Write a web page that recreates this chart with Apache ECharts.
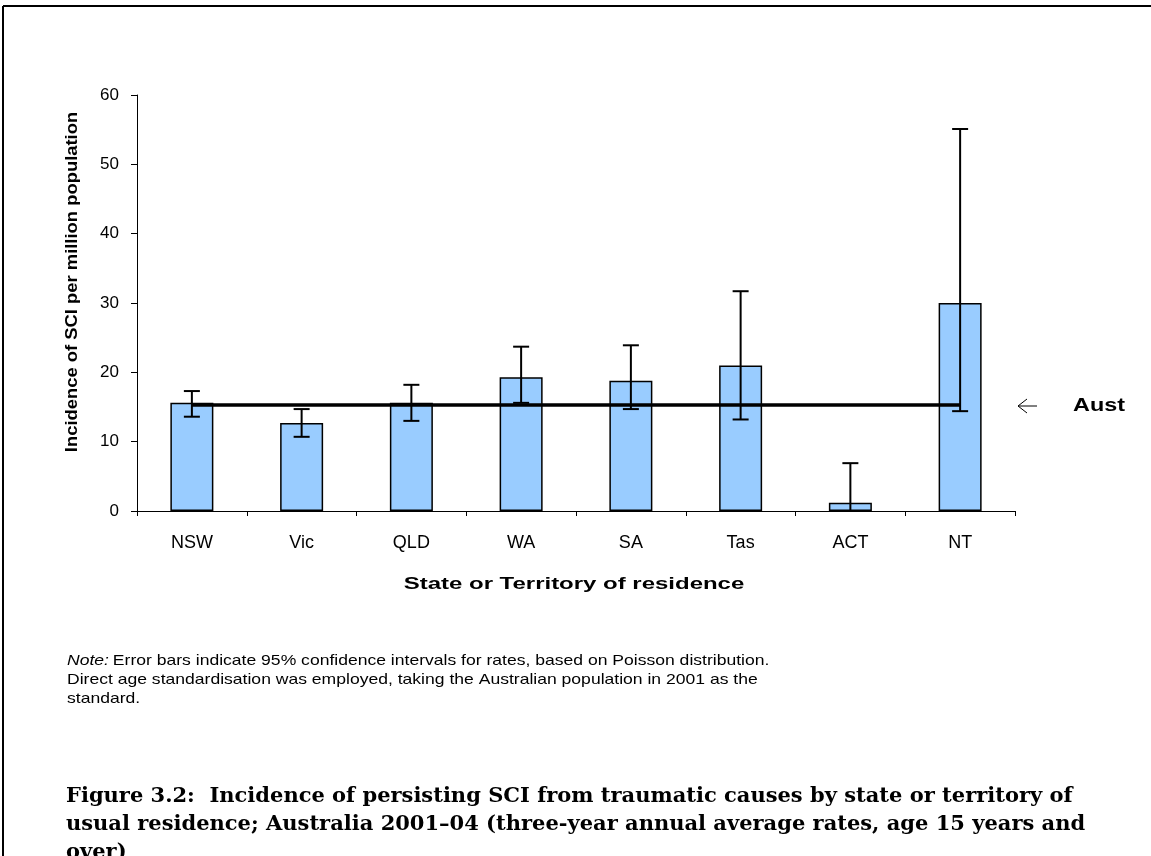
<!DOCTYPE html>
<html>
<head>
<meta charset="utf-8">
<style>
html,body{margin:0;padding:0;background:#fff;}
#chart{width:1151px;height:856px;}
</style>
<script src="https://cdn.jsdelivr.net/npm/echarts@6/dist/echarts.min.js"></script>
</head>
<body>
<div id="chart"></div>
<script>
// ---- data ----
var categories = ['NSW', 'Vic', 'QLD', 'WA', 'SA', 'Tas', 'ACT', 'NT'];
var rates = [15.6, 12.7, 15.6, 19.3, 18.8, 21.0, 1.2, 30.0];
var lowerCI = [13.6, 10.7, 13.0, 15.6, 14.7, 13.2, 0.0, 14.4];
var upperCI = [17.3, 14.7, 18.2, 23.7, 23.9, 31.7, 6.9, 55.1];
var australiaRate = 15.3;
var yTicks = [0, 10, 20, 30, 40, 50, 60];

var yAxisTitle = 'Incidence of SCI per million population';
var xAxisTitle = 'State or Territory of residence';
var austLabel = 'Aust';
var noteLines = [
  'Error bars indicate 95% confidence intervals for rates, based on Poisson distribution.',
  'Direct age standardisation was employed, taking the Australian population in 2001 as the',
  'standard.'
];
var captionLines = [
  'Figure 3.2:  Incidence of persisting SCI from traumatic causes by state or territory of',
  'usual residence; Australia 2001\u201304 (three-year annual average rates, age 15 years and',
  'over)'
];

var sans = '"Liberation Sans", Arial, sans-serif';
var serif = '"DejaVu Serif", "Liberation Serif", serif';

var austLine = categories.map(function () { return australiaRate; });
var errData = categories.map(function (c, i) { return [i, lowerCI[i], upperCI[i]]; });

var chart = echarts.init(document.getElementById('chart'), null, {renderer: 'canvas'});

var graphics = [
  // outer frame (top & left edges)
  {type: 'line', shape: {x1: 3, y1: 6, x2: 1151, y2: 6}, style: {stroke: '#000', lineWidth: 2}},
  {type: 'line', shape: {x1: 3, y1: 6, x2: 3, y2: 856}, style: {stroke: '#000', lineWidth: 2}},
  // y axis title
  {type: 'text', x: 73, y: 282, rotation: Math.PI / 2, scaleX: 1.15,
    style: {text: yAxisTitle, font: 'bold 16px ' + sans, fill: '#000', textAlign: 'center', textVerticalAlign: 'middle'}},
  // x axis title
  {type: 'text', x: 574, y: 584, scaleX: 1.41,
    style: {text: xAxisTitle, font: 'bold 17px ' + sans, fill: '#000', textAlign: 'center', textVerticalAlign: 'middle'}},
  // arrow pointing to the Australia line
  {type: 'polyline', shape: {points: [[1027, 399], [1018, 406], [1027, 413]]}, style: {stroke: '#000', lineWidth: 1, fill: null}},
  {type: 'line', shape: {x1: 1018, y1: 406, x2: 1037, y2: 406}, style: {stroke: '#000', lineWidth: 1}},
  {type: 'text', x: 1073, y: 406, scaleX: 1.3,
    style: {text: austLabel, font: 'bold 18px ' + sans, fill: '#000', textAlign: 'left', textVerticalAlign: 'middle'}},
  // note
  {type: 'text', x: 67, y: 661, scaleX: 1.17,
    style: {text: '{i|Note:} {n|' + noteLines[0] + '}', textVerticalAlign: 'middle',
      rich: {i: {font: 'italic 15px ' + sans, fill: '#000'}, n: {font: '15px ' + sans, fill: '#000'}}}},
  {type: 'text', x: 67, y: 680, scaleX: 1.17,
    style: {text: noteLines[1], font: '15px ' + sans, fill: '#000', textVerticalAlign: 'middle'}},
  {type: 'text', x: 67, y: 699, scaleX: 1.17,
    style: {text: noteLines[2], font: '15px ' + sans, fill: '#000', textVerticalAlign: 'middle'}}
];
captionLines.forEach(function (t, i) {
  graphics.push({type: 'text', x: 66, y: 797 + i * 28, scaleX: 1.05,
    style: {text: t, font: 'bold 20px ' + serif, fill: '#000', textVerticalAlign: 'middle'}});
});

var option = {
  backgroundColor: '#fff',
  animation: false,
  grid: {left: 137, right: 136, top: 95, bottom: 345, containLabel: false},
  xAxis: {
    type: 'category',
    data: categories,
    boundaryGap: true,
    axisLine: {lineStyle: {color: '#000', width: 1}},
    axisTick: {show: true, inside: false, length: 5, alignWithLabel: false, lineStyle: {color: '#000'}},
    axisLabel: {color: '#000', fontFamily: sans, fontSize: 18, margin: 23}
  },
  yAxis: {
    type: 'value',
    min: yTicks[0], max: yTicks[yTicks.length - 1], interval: 10,
    axisLine: {show: true, lineStyle: {color: '#000', width: 1}},
    axisTick: {show: true, length: 6, lineStyle: {color: '#000'}},
    axisLabel: {color: '#000', fontFamily: sans, fontSize: 17, margin: 18},
    splitLine: {show: false}
  },
  series: [
    {
      name: 'Rate', type: 'bar', data: rates, barWidth: 43,
      itemStyle: {color: '#99CCFF', borderColor: '#000', borderWidth: 1.5},
      z: 2
    },
    {
      name: 'Australia', type: 'line', data: austLine, symbol: 'none',
      lineStyle: {color: '#000', width: 3.5}, z: 3
    },
    {
      name: 'CI', type: 'custom', data: errData, z: 4,
      renderItem: function (params, api) {
        var x = api.value(0);
        var lo = api.coord([x, api.value(1)]);
        var hi = api.coord([x, api.value(2)]);
        var half = 8;
        var st = {stroke: '#000', lineWidth: 2};
        return {type: 'group', children: [
          {type: 'line', shape: {x1: lo[0], y1: lo[1], x2: hi[0], y2: hi[1]}, style: st},
          {type: 'line', shape: {x1: hi[0] - half, y1: hi[1], x2: hi[0] + half, y2: hi[1]}, style: st},
          {type: 'line', shape: {x1: lo[0] - half, y1: lo[1], x2: lo[0] + half, y2: lo[1]}, style: st}
        ]};
      }
    }
  ],
  graphic: graphics
};
chart.setOption(option);
</script>
</body>
</html>
